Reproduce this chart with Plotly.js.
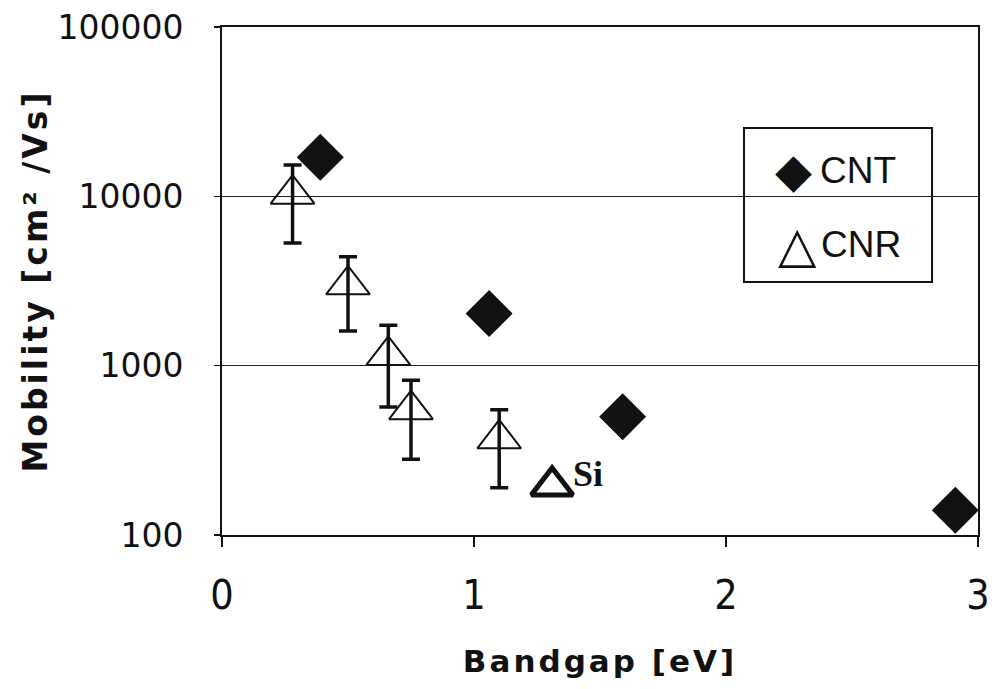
<!DOCTYPE html>
<html>
<head>
<meta charset="utf-8">
<script src="https://cdn.plot.ly/plotly-3.0.1.min.js"></script>
<style>
  html, body { margin: 0; padding: 0; background: #ffffff; }
  #chart { width: 992px; height: 689px; }
  .xtitle, .ytitle { letter-spacing: 3px; }
</style>
</head>
<body>
<div id="chart"></div>
<script>
// ---- data ----
const cntBandgap  = [0.39, 1.06, 1.59, 2.91];
const cntMobility = [17000, 2030, 500, 140];

const cnrBandgap  = [0.28, 0.50, 0.66, 0.75, 1.10];
const cnrMobility = [10300, 3000, 1150, 550, 370];
const cnrError    = [5000, 1400, 580, 270, 180];

const siBandgap  = [1.31];
const siMobility = [195];
const siLabel    = 'Si';

const seriesNames = ['CNT', 'CNR'];
const legendSymbols = ['\u25C6', '\u25B3'];

const xTickVals = [0, 1, 2, 3];
const xTickText = ['0', '1', '2', '3'];
const yTickVals = [100, 1000, 10000, 100000];
const yTickText = ['100', '1000', '10000', '100000'];

const xTitle = 'Bandgap [eV]';
const yTitle = 'Mobility [cm\u00B2 /Vs]';

// ---- traces ----
const traces = [
  {
    type: 'scatter', mode: 'markers', name: seriesNames[1],
    x: cnrBandgap, y: cnrMobility,
    error_y: { type: 'data', array: cnrError, symmetric: true,
               color: '#111111', thickness: 3.5, width: 9 },
    marker: { symbol: 'triangle-up-open', size: 38, color: '#111111',
              line: { width: 2, color: '#111111' } },
    showlegend: false
  },
  {
    type: 'scatter', mode: 'markers', name: 'Si',
    x: siBandgap, y: siMobility,
    marker: { symbol: 'triangle-up-open', size: 36, color: '#111111',
              line: { width: 5, color: '#111111' } },
    showlegend: false
  },
  {
    type: 'scatter', mode: 'markers', name: seriesNames[0],
    x: cntBandgap, y: cntMobility,
    marker: { symbol: 'diamond', size: 34, color: '#111111',
              line: { width: 2, color: '#111111' } },
    showlegend: false
  }
];

// ---- layout ----
const axisFontY = { family: 'DejaVu Sans', size: 33, color: '#111111' };
const axisFontX = { family: 'DejaVu Sans Condensed, DejaVu Sans', size: 41, color: '#111111' };
const legendFont = { family: 'Liberation Sans', size: 37, color: '#111111' };

const layout = {
  width: 992, height: 689,
  paper_bgcolor: '#ffffff', plot_bgcolor: '#ffffff',
  margin: { l: 222, r: 14, t: 27, b: 154, pad: 0 },
  showlegend: false,
  xaxis: {
    range: [0, 3], tickmode: 'array', tickvals: xTickVals, ticktext: xTickText,
    ticks: 'outside', ticklen: 10, tickwidth: 1.5, tickcolor: '#111111',
    ticklabelstandoff: 13,
    showline: true, linecolor: '#111111', linewidth: 2, mirror: true,
    showgrid: false, zeroline: false,
    tickfont: axisFontX,
    title: { text: xTitle, standoff: 32,
             font: { family: 'DejaVu Sans', size: 31, weight: 'bold', color: '#111111' } }
  },
  yaxis: {
    type: 'log', range: [2, 5], tickmode: 'array', tickvals: yTickVals, ticktext: yTickText,
    ticks: 'outside', ticklen: 6, tickwidth: 1.5, tickcolor: '#111111',
    ticklabelstandoff: 24,
    showline: true, linecolor: '#111111', linewidth: 2, mirror: true,
    showgrid: true, gridcolor: '#222222', gridwidth: 1.5, zeroline: false,
    tickfont: axisFontY,
    title: { text: yTitle, standoff: 0,
             font: { family: 'DejaVu Sans', size: 33, weight: 'bold', color: '#111111' } }
  },
  shapes: [
    { type: 'rect', xref: 'paper', yref: 'paper', layer: 'between',
      x0: 0.6905, x1: 0.9392, y0: 0.498, y1: 0.8012,
      line: { color: '#111111', width: 2 }, fillcolor: '#ffffff' }
  ],
  annotations: [
    { xref: 'paper', yref: 'paper', x: 0.7566, y: 0.7185, xanchor: 'center', yanchor: 'middle',
      showarrow: false, text: legendSymbols[0],
      font: { family: 'DejaVu Sans', size: 48, color: '#111111' } },
    { xref: 'paper', yref: 'paper', x: 0.788, y: 0.7185, xanchor: 'left', yanchor: 'middle',
      showarrow: false, text: seriesNames[0], font: legendFont },
    { xref: 'paper', yref: 'paper', x: 0.7619, y: 0.571, xanchor: 'center', yanchor: 'middle',
      showarrow: false, text: legendSymbols[1],
      font: { family: 'DejaVu Sans', size: 50, color: '#111111' } },
    { xref: 'paper', yref: 'paper', x: 0.790, y: 0.571, xanchor: 'left', yanchor: 'middle',
      showarrow: false, text: seriesNames[1], font: legendFont },
    { xref: 'x', yref: 'y', x: siBandgap[0], y: Math.log10(siMobility[0]),
      xanchor: 'left', yanchor: 'middle', xshift: 19, yshift: 12, showarrow: false,
      text: siLabel,
      font: { family: 'Liberation Serif', size: 36, weight: 'bold', color: '#111111' } }
  ]
};

Plotly.newPlot('chart', traces, layout, { staticPlot: true, displayModeBar: false });
</script>
</body>
</html>
